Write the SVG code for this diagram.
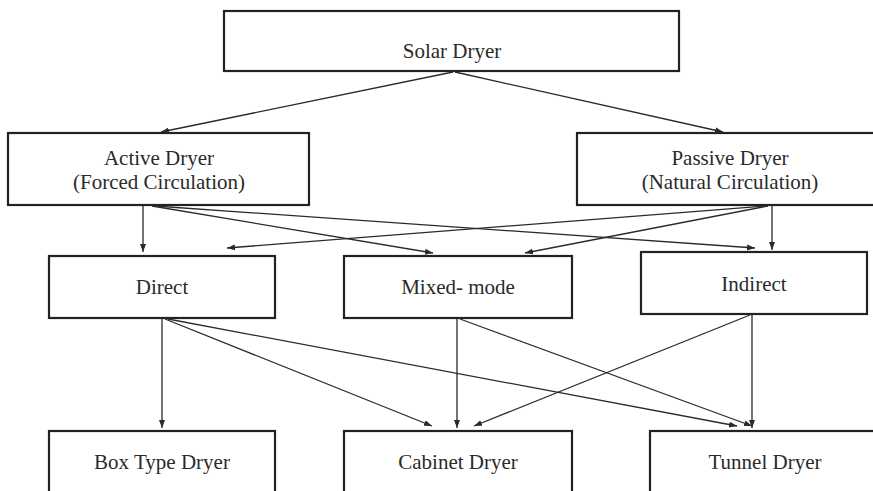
<svg xmlns="http://www.w3.org/2000/svg" width="873" height="491" viewBox="0 0 873 491">
  <defs>
    <style>
      .box { fill: #ffffff; stroke: #222222; stroke-width: 2.2; }
      .lbl { font-size: 21px; fill: #2a2a2a; text-anchor: middle; }
      .edge { fill: none; stroke: #2a2a2a; stroke-width: 1.3; marker-end: url(#arrow); }
    </style>
    <marker id="arrow" markerUnits="userSpaceOnUse" markerWidth="9" markerHeight="7" refX="8" refY="3" orient="auto">
      <path d="M0,0 L8,3 L0,6 z" fill="#2a2a2a"/>
    </marker>
  </defs>
  <rect width="873" height="491" fill="#ffffff"/>

  <g font-family="Liberation Serif, Times New Roman, serif">
    <g id="solar-dryer">
      <rect class="box" x="224" y="11" width="455" height="60"/>
      <text class="lbl" x="452" y="58">Solar Dryer</text>
    </g>
    <g id="active-dryer">
      <rect class="box" x="8" y="133" width="301" height="72"/>
      <text class="lbl" x="159" y="165">Active Dryer</text>
      <text class="lbl" x="159" y="189">(Forced Circulation)</text>
    </g>
    <g id="passive-dryer">
      <rect class="box" x="577" y="133" width="310" height="72"/>
      <text class="lbl" x="730" y="165">Passive Dryer</text>
      <text class="lbl" x="730" y="189">(Natural Circulation)</text>
    </g>
    <g id="direct">
      <rect class="box" x="49" y="256" width="226" height="62"/>
      <text class="lbl" x="162" y="294">Direct</text>
    </g>
    <g id="mixed-mode">
      <rect class="box" x="344" y="256" width="228" height="62"/>
      <text class="lbl" x="458" y="294">Mixed- mode</text>
    </g>
    <g id="indirect">
      <rect class="box" x="641" y="252" width="226" height="62"/>
      <text class="lbl" x="754" y="291">Indirect</text>
    </g>
    <g id="box-type-dryer">
      <rect class="box" x="49" y="431" width="226" height="70"/>
      <text class="lbl" x="162" y="469">Box Type Dryer</text>
    </g>
    <g id="cabinet-dryer">
      <rect class="box" x="344" y="431" width="228" height="70"/>
      <text class="lbl" x="458" y="469">Cabinet Dryer</text>
    </g>
    <g id="tunnel-dryer">
      <rect class="box" x="650" y="431" width="232" height="70"/>
      <text class="lbl" x="765" y="469">Tunnel Dryer</text>
    </g>
  </g>

  <g id="connectors">
    <line class="edge" x1="453" y1="72" x2="161" y2="132"/>
    <line class="edge" x1="455" y1="72" x2="723" y2="132"/>
    <line class="edge" x1="143" y1="206" x2="143" y2="252"/>
    <line class="edge" x1="152" y1="206" x2="433" y2="253"/>
    <line class="edge" x1="155" y1="206" x2="755" y2="248"/>
    <line class="edge" x1="772" y1="206" x2="772" y2="250"/>
    <line class="edge" x1="768" y1="206" x2="525" y2="253"/>
    <line class="edge" x1="765" y1="206" x2="227" y2="248"/>
    <line class="edge" x1="162" y1="319" x2="162" y2="428"/>
    <line class="edge" x1="165" y1="319" x2="432" y2="426"/>
    <line class="edge" x1="168" y1="319" x2="737" y2="426"/>
    <line class="edge" x1="457" y1="319" x2="457" y2="428"/>
    <line class="edge" x1="460" y1="319" x2="752" y2="426"/>
    <line class="edge" x1="752" y1="315" x2="752" y2="428"/>
    <line class="edge" x1="750" y1="315" x2="474" y2="426"/>
  </g>
</svg>
